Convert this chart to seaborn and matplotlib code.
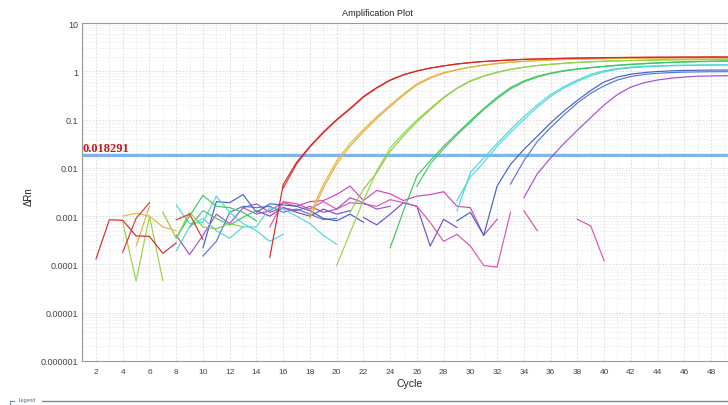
import numpy as np
import pandas as pd
import matplotlib
matplotlib.use("Agg")
import matplotlib.pyplot as plt
import matplotlib.ticker as mticker
from matplotlib.lines import Line2D
import seaborn as sns

# ---- data (cycle -> delta Rn) ----
threshold = 0.018291

red_a_noise = [1.3e-4, 8.4e-4, 8.2e-4, 3.9e-4, 3.8e-4, 1.7e-4, 2.8e-4]
red_a_amp = [1.4e-4, 4.5e-3, 0.013, 0.028, 0.055, 0.10, 0.17, 0.30, 0.46, 0.66, 0.85, 1.02,
             1.17, 1.30, 1.42, 1.52, 1.60, 1.66, 1.72, 1.77, 1.80, 1.83, 1.86, 1.88, 1.90,
             1.92, 1.93, 1.94, 1.95, 1.96, 1.96, 1.97, 1.97, 1.98, 1.98, 1.98]
red_b_noise1 = [1.8e-4, 9.0e-4, 1.9e-3]
red_b_noise2 = [8.4e-4, 1.1e-3, 3.3e-4]
red_b_amp = [3.8e-3, 0.012, 0.027, 0.053, 0.097, 0.165, 0.29, 0.45, 0.65, 0.84, 1.01, 1.16,
             1.29, 1.41, 1.51, 1.59, 1.65, 1.71, 1.76, 1.79, 1.82, 1.85, 1.87, 1.89, 1.91,
             1.92, 1.93, 1.94, 1.95, 1.95, 1.96, 1.96, 1.97, 1.97, 1.97]

orange_a_noise = [1.0e-3, 1.15e-3, 1.0e-3, 6.0e-4, 5.0e-4]
orange_a_amp = [1.1e-3, 4.5e-3, 0.014, 0.032, 0.062, 0.115, 0.20, 0.34, 0.55, 0.75, 0.94, 1.09,
                1.23, 1.35, 1.46, 1.55, 1.62, 1.68, 1.72, 1.76, 1.79, 1.81, 1.83, 1.85, 1.86,
                1.87, 1.88, 1.89, 1.90, 1.90, 1.91, 1.91, 1.91]
orange_b_noise = [2.4e-4, 1.6e-3]
orange_b_amp = [9.0e-4, 3.8e-3, 0.012, 0.028, 0.056, 0.105, 0.185, 0.32, 0.52, 0.72, 0.91, 1.07,
                1.21, 1.33, 1.44, 1.53, 1.60, 1.66, 1.71, 1.75, 1.78, 1.80, 1.82, 1.84, 1.85,
                1.86, 1.87, 1.88, 1.89, 1.89, 1.90, 1.90, 1.90]

lime_a_noise = [7.5e-4, 4.5e-5, 1.0e-3, 4.6e-5]
lime_a_amp = [9.5e-5, 4.5e-4, 2.1e-3, 8.5e-3, 0.026, 0.052, 0.098, 0.17, 0.29, 0.45, 0.64, 0.80,
              0.96, 1.10, 1.22, 1.32, 1.40, 1.47, 1.53, 1.58, 1.62, 1.65, 1.68, 1.70, 1.72,
              1.74, 1.75, 1.76, 1.77, 1.78, 1.78]
lime_b_noise = [1.2e-3, 3.5e-4, 1.2e-3, 6.0e-4, 5.5e-4, 7.0e-4, 6.0e-4]
lime_b_amp = [1.2e-3, 3.6e-3, 8.0e-3, 0.022, 0.046, 0.09, 0.16, 0.28, 0.44, 0.62, 0.79, 0.95,
              1.09, 1.21, 1.31, 1.39, 1.46, 1.52, 1.57, 1.61, 1.64, 1.67, 1.69, 1.71, 1.73,
              1.74, 1.75, 1.76, 1.77, 1.77]

green_a_noise = [3.5e-4, 1.0e-3, 2.7e-3, 1.6e-3, 1.5e-3, 1.2e-3, 8.0e-4]
green_a_amp = [2.2e-4, 1.3e-3, 6.8e-3, 0.014, 0.028, 0.052, 0.095, 0.17, 0.29, 0.46, 0.63, 0.79,
               0.92, 1.03, 1.12, 1.20, 1.27, 1.34, 1.40, 1.45, 1.50, 1.54, 1.57, 1.60, 1.62,
               1.64, 1.65]
green_b_noise = [6.0e-4, 1.3e-3, 9.0e-4, 6.5e-4, 9.5e-4, 1.3e-3]
green_b_amp = [4.2e-3, 0.012, 0.025, 0.048, 0.088, 0.16, 0.27, 0.43, 0.60, 0.76, 0.90, 1.01,
               1.10, 1.18, 1.25, 1.32, 1.38, 1.43, 1.48, 1.52, 1.55, 1.58, 1.60, 1.62, 1.63]

cyan_a_noise = [1.7e-3, 7.0e-4, 7.5e-4, 2.6e-3, 1.2e-3, 7.0e-4, 5.0e-4, 3.0e-4, 4.2e-4]
cyan_a_amp = [1.3e-3, 8.0e-3, 0.016, 0.032, 0.062, 0.115, 0.20, 0.33, 0.48, 0.66, 0.86, 1.03,
              1.14, 1.22, 1.27, 1.30, 1.32, 1.34, 1.35, 1.36, 1.36, 1.37]
cyan_b_noise = [1.9e-4, 6.0e-4, 9.0e-4, 5.0e-4, 3.5e-4, 6.0e-4, 6.0e-4, 1.5e-3, 1.4e-3,
                1.0e-3, 7.0e-4, 4.0e-4, 2.6e-4]
cyan_b_amp = [2.1e-3, 6.5e-3, 0.013, 0.028, 0.054, 0.10, 0.18, 0.30, 0.45, 0.62, 0.80, 0.97,
              1.10, 1.18, 1.23, 1.27, 1.30, 1.32, 1.33, 1.34, 1.35, 1.35]

blue_a_noise = [2.2e-4, 2.0e-3, 1.9e-3, 2.8e-3, 1.2e-3, 1.8e-3, 1.7e-3, 1.6e-3, 1.3e-3,
                9.0e-4, 8.0e-4, 1.1e-3, 7.5e-4]
blue_a_amp = [8.0e-4, 1.2e-3, 4.0e-4, 4.2e-3, 0.0118, 0.024, 0.045, 0.085, 0.15, 0.25, 0.40,
              0.60, 0.76, 0.87, 0.94, 0.99, 1.02, 1.04, 1.05, 1.06, 1.06, 1.06]
blue_b_noise = [1.5e-4, 3.0e-4, 1.2e-3, 1.6e-3, 1.5e-3, 1.6e-3, 1.2e-3, 1.4e-3, 1.1e-3,
                8.5e-4, 9.0e-4]
blue_b_amp = [4.6e-3, 0.014, 0.035, 0.068, 0.125, 0.22, 0.35, 0.50, 0.66, 0.78, 0.86, 0.91,
              0.94, 0.96, 0.97, 0.98, 0.98, 0.98]

purple_noise = [4.0e-4, 1.6e-4, 4.0e-4, 1.1e-3, 7.0e-4, 1.5e-3, 1.8e-3, 1.2e-3, 1.5e-3,
                1.3e-3, 1.6e-3, 1.2e-3, 1.4e-3, 2.4e-3, 1.9e-3, 1.4e-3, 1.6e-3]
purple_amp = [2.4e-3, 7.5e-3, 0.016, 0.032, 0.060, 0.11, 0.20, 0.33, 0.47, 0.58, 0.66, 0.72,
              0.76, 0.79, 0.80, 0.81, 0.82]

violet_noise1 = [1.3e-3, 1.0e-3, 1.5e-3, 1.2e-3, 1.0e-3, 1.4e-3, 1.1e-3, 1.3e-3]
violet_noise2 = [9.4e-4, 6.6e-4, 1.1e-3, 1.9e-3, 1.6e-3, 2.4e-4, 8.6e-4, 5.8e-4]

magenta_a = [1.5e-3, 1.1e-3, 1.3e-3, 1.9e-3, 1.6e-3, 2.0e-3, 2.1e-3, 2.8e-3, 4.2e-3, 2.1e-3,
             3.4e-3, 2.9e-3, 2.1e-3, 2.6e-3, 2.8e-3, 3.2e-3, 1.6e-3, 1.5e-3, 4.0e-4, 8.6e-4]
magenta_b1 = [6.0e-4, 2.0e-3, 1.8e-3, 1.4e-3, 2.0e-3, 1.4e-3, 1.9e-3, 1.8e-3, 1.6e-3, 2.2e-3,
              1.9e-3, 1.6e-3, 7.4e-4, 3.0e-4, 4.2e-4, 2.4e-4, 9.5e-5, 8.8e-5, 1.2e-3]
magenta_b2 = [1.3e-3, 5.0e-4]
magenta_b3 = [8.6e-4, 6.3e-4, 1.2e-4]

# (well, first cycle, values)
segments = [
    ("Violet", 14, violet_noise1), ("Violet", 22, violet_noise2),
    ("Magenta A", 13, magenta_a),
    ("Magenta B", 15, magenta_b1), ("Magenta B", 34, magenta_b2), ("Magenta B", 38, magenta_b3),
    ("Purple", 8, purple_noise), ("Purple", 34, purple_amp),
    ("Blue B", 10, blue_b_noise), ("Blue B", 33, blue_b_amp),
    ("Blue A", 10, blue_a_noise), ("Blue A", 29, blue_a_amp),
    ("Cyan B", 8, cyan_b_noise), ("Cyan B", 29, cyan_b_amp),
    ("Cyan A", 8, cyan_a_noise), ("Cyan A", 29, cyan_a_amp),
    ("Green B", 9, green_b_noise), ("Green B", 26, green_b_amp),
    ("Green A", 8, green_a_noise), ("Green A", 24, green_a_amp),
    ("Lime B", 7, lime_b_noise), ("Lime B", 21, lime_b_amp),
    ("Lime A", 4, lime_a_noise), ("Lime A", 20, lime_a_amp),
    ("Orange B", 5, orange_b_noise), ("Orange B", 18, orange_b_amp),
    ("Orange A", 4, orange_a_noise), ("Orange A", 18, orange_a_amp),
    ("Red B", 4, red_b_noise1), ("Red B", 8, red_b_noise2), ("Red B", 16, red_b_amp),
    ("Red A", 2, red_a_noise), ("Red A", 15, red_a_amp),
]

colors = {
    "Red A": "#d42a2a", "Red B": "#d83a30",
    "Orange A": "#e8b53e", "Orange B": "#e0b04a",
    "Lime A": "#96d448", "Lime B": "#8ccc44",
    "Green A": "#3cc862", "Green B": "#48c470",
    "Cyan A": "#48dada", "Cyan B": "#5cd2dc",
    "Blue A": "#4862c4", "Blue B": "#5878d0",
    "Purple": "#a052d2", "Violet": "#7a48d8",
    "Magenta A": "#d044c4", "Magenta B": "#dc54b0",
}

rows = []
for k, (well, start, vals) in enumerate(segments):
    for i, v in enumerate(vals):
        rows.append({"cycle": start + i, "drn": v, "well": well, "seg": k})
df = pd.DataFrame(rows)
hue_order = list(dict.fromkeys(s[0] for s in segments))

# ---- figure ----
W, H = 728, 406
fig = plt.figure(figsize=(W / 100, H / 100), dpi=100)
ax = fig.add_axes([82 / W, 1 - 362 / H, 1 - 82 / W, (362 - 24) / H])

sns.lineplot(data=df, x="cycle", y="drn", hue="well", hue_order=hue_order, units="seg",
             estimator=None, sort=False, palette=colors, legend=False, linewidth=0.85, ax=ax)

ax.set_yscale("log")
ax.set_ylim(1e-6, 10)
ax.set_xlim(0.953, 49.27)

ax.axhline(threshold, color="#80b4ea", linewidth=2.3, zorder=1)
ax.text(0.99, threshold * 1.04, f"{threshold:g}", color="#c41818", fontsize=9, fontweight="bold",
        family="Liberation Serif", ha="left", va="bottom")

yt = [1e-6, 1e-5, 1e-4, 1e-3, 1e-2, 1e-1, 1, 10]
ax.set_yticks(yt)
ax.set_yticklabels(["0.000001", "0.00001", "0.0001", "0.001", "0.01", "0.1", "1", "10"])
ax.yaxis.set_minor_locator(mticker.LogLocator(base=10, subs=np.arange(2, 10)))
ax.yaxis.set_minor_formatter(mticker.NullFormatter())
ax.set_xticks(np.arange(2, 50, 2))
ax.xaxis.set_minor_locator(mticker.MultipleLocator(1))

ax.tick_params(which="both", length=0, labelsize=6.5, labelcolor="#444444")
ax.tick_params(axis="x", labelsize=6, pad=5)
ax.tick_params(axis="y", pad=3)
for lab in ax.get_xticklabels() + ax.get_yticklabels():
    lab.set_family("Liberation Sans")
ax.grid(which="major", color="#d6d6d6", linestyle=(0, (2, 2)), linewidth=0.6)
ax.grid(which="minor", color="#dedede", linestyle=(0, (1, 1.5)), linewidth=0.5)
ax.set_axisbelow(True)

for side in ["left", "bottom", "top"]:
    ax.spines[side].set_color("#9a9a9a")
    ax.spines[side].set_linewidth(0.8)
ax.spines["right"].set_visible(False)
ax.set_xlabel("")
ax.set_ylabel("")

fig.text(377 / W, 1 - 13 / H, "Amplification Plot", ha="center", va="center", fontsize=6.6,
         family="Liberation Sans", color="#222222")
fig.text(29 / W, 1 - 197 / H, "ΔRn", ha="center", va="center", rotation=90, fontsize=7,
         family="Liberation Sans", color="#222222")
fig.text(410 / W, 1 - 384 / H, "Cycle", ha="center", va="center", fontsize=7.5,
         family="Liberation Sans", color="#222222")

# legend strip at the bottom
fig.text(19 / W, 1 - 401 / H, "Legend", ha="left", va="center", fontsize=3.6,
         family="Liberation Sans", color="#3a6a90")
fig.add_artist(Line2D([42 / W, 1], [1 - 402 / H, 1 - 402 / H], color="#6f90a8", linewidth=1.0))
fig.add_artist(Line2D([10 / W, 14 / W], [1 - 402 / H, 1 - 402 / H], color="#6f90a8", linewidth=0.8))
fig.add_artist(Line2D([10 / W, 10 / W], [1 - 402 / H, 0], color="#6f90a8", linewidth=0.8))

fig.savefig("out.png", dpi=100)
